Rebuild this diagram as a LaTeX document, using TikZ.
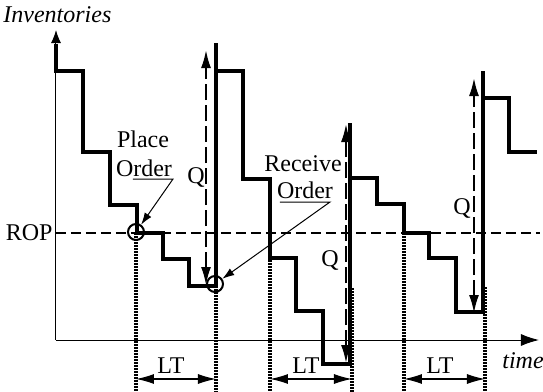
\documentclass[tikz,border=0pt]{standalone}
\usepackage{fontspec}
\setmainfont{Liberation Serif}
\usetikzlibrary{arrows.meta}
\tikzset{
  axis/.style={line width=0.5pt},
  stock/.style={line width=2.1pt,line join=miter},
  ropline/.style={line width=0.8pt,dash pattern=on 5pt off 2.5pt},
  qarr/.style={line width=1pt,dash pattern=on 8pt off 2.5pt,{Latex[length=9pt,width=5pt]}-{Latex[length=9pt,width=5pt]}},
  drop/.style={line width=1.7pt,dash pattern=on 0.9pt off 0.6pt},
  ltarr/.style={line width=0.6pt,{Latex[length=9pt,width=5pt]}-{Latex[length=9pt,width=5pt]}},
  note/.style={line width=0.5pt,-{Latex[length=6pt,width=4pt]}},
  lbl/.style={font=\fontsize{12}{14}\selectfont,inner sep=0pt},
  evt/.style={draw,circle,line width=1pt,minimum size=8pt,inner sep=0pt}
}
\begin{document}
\begin{tikzpicture}[x=0.5pt,y=-0.5pt]
    \useasboundingbox (0,0) rectangle (543,392);
    % axes
    \coordinate (o) at (56,340);
    \coordinate (ytop) at (56,30);
    \coordinate (xend) at (539,340);
    \draw[axis,-{Latex[length=6.5pt,width=5pt]}] (o) -- (ytop);
    \draw[axis,-{Latex[length=9pt,width=6pt]}] (o) -- (xend);
    \node[lbl,anchor=base west] (inv) at (3,22) {\itshape Inventories};
    \node[lbl,anchor=base west] (time) at (502,368) {\itshape time};
    % reorder point
    \node[lbl,anchor=east] (rop) at (53,233) {ROP};
    \coordinate (ropa) at (56,233);
    \coordinate (ropb) at (540,233);
    \draw[ropline] (ropa) -- (ropb);
    % stock level
    \draw[stock] (56,44) -- (56,71) -| (83,152) -| (110,205) -| (137,233) -| (163,259) -| (189,286) -| (216,43);
    \draw[stock] (216,71) -| (243,179) -| (270,258) -| (296,311) -| (323,364) -| (350,123);
    \draw[stock] (350,178) -| (377,204) -| (404,233) -| (429,258) -| (456,312) -| (483,71);
    \draw[stock] (483,98) -| (509,152) -- (537,152);
    % order quantity
    \coordinate (q1t) at (206,50);
    \coordinate (q1b) at (206,285);
    \coordinate (q2t) at (346,124);
    \coordinate (q2b) at (346,363);
    \coordinate (q3t) at (474,78);
    \coordinate (q3b) at (474,313);
    \draw[qarr] (q1b) -- (q1t);
    \draw[qarr] (q2b) -- (q2t);
    \draw[qarr] (q3b) -- (q3t);
    \node[lbl] (q1) at (196,177) {Q};
    \node[lbl] (q2) at (330,260) {Q};
    \node[lbl] (q3) at (462,208) {Q};
    % lead time
    \coordinate (d1) at (136,233);
    \coordinate (d2) at (216,286);
    \coordinate (d3) at (270,233);
    \coordinate (d4) at (352,288);
    \coordinate (d5) at (404,233);
    \coordinate (d6) at (485,287);
    \draw[drop] (d1) -- (136,392);
    \draw[drop] (d2) -- (216,392);
    \draw[drop] (d3) -- (270,392);
    \draw[drop] (d4) -- (352,392);
    \draw[drop] (d5) -- (404,392);
    \draw[drop] (d6) -- (485,392);
    \coordinate (lt1a) at (136,379);
    \coordinate (lt1b) at (216,379);
    \coordinate (lt2a) at (270,379);
    \coordinate (lt2b) at (352,379);
    \coordinate (lt3a) at (404,379);
    \coordinate (lt3b) at (485,379);
    \draw[ltarr] (lt1a) -- (lt1b);
    \draw[ltarr] (lt2a) -- (lt2b);
    \draw[ltarr] (lt3a) -- (lt3b);
    \node[lbl,anchor=base] (lt1) at (171,373) {LT};
    \node[lbl,anchor=base] (lt2) at (306,373) {LT};
    \node[lbl,anchor=base] (lt3) at (440,373) {LT};
    % place and receive order
    \node[evt] (po) at (136,232) {};
    \node[evt] (ro) at (215,284) {};
    \node[lbl,anchor=base] (place) at (143,147) {Place};
    \node[lbl,anchor=base] (pord) at (144,176) {Order};
    \node[lbl,anchor=base] (recv) at (303,171) {Receive};
    \node[lbl,anchor=base] (rord) at (305,198) {Order};
    \coordinate (pu1) at (133,179);
    \coordinate (pu2) at (173,179);
    \coordinate (ru1) at (280,202);
    \coordinate (ru2) at (330,202);
    \draw[note] (pu1) -- (pu2) -- (po);
    \draw[note] (ru1) -- (ru2) -- (ro);
  \end{tikzpicture}
\end{document}
